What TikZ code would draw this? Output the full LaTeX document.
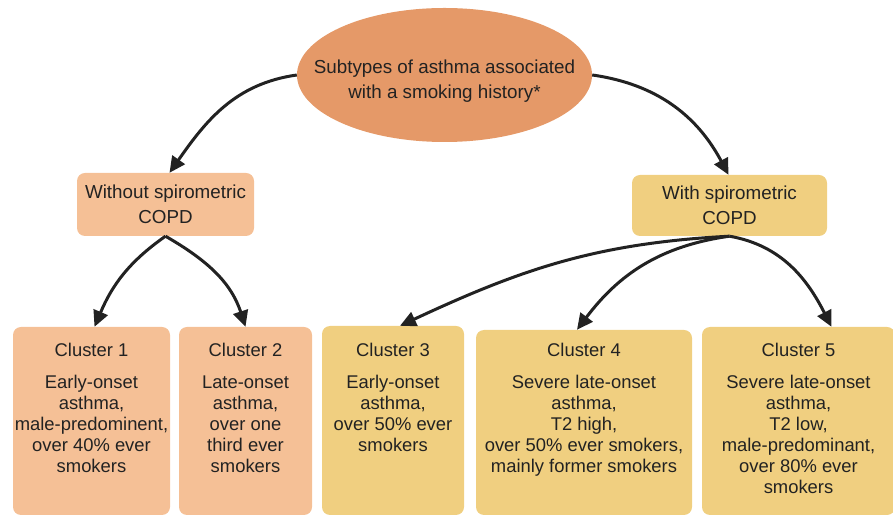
\documentclass[tikz,border=0pt]{standalone}
\usepackage{fontspec}
\setmainfont{Liberation Sans}
\usetikzlibrary{shapes.geometric,arrows.meta}
\definecolor{topfill}{HTML}{E59968}
\definecolor{peach}{HTML}{F5C096}
\definecolor{sand}{HTML}{F0CF80}
\definecolor{ink}{HTML}{222222}
\tikzset{
  x=1pt,y=1pt,
  topell/.style={ellipse,fill=topfill,draw=none,minimum width=295pt,minimum height=134pt,inner sep=0pt},
  midbox/.style={rounded corners=8pt,draw=none,inner sep=0pt,align=center,text=ink,
     font=\fontsize{18.8}{25}\selectfont},
  clbox/.style={rounded corners=8pt,draw=none,inner sep=0pt},
  cltext/.style={anchor=north,inner sep=0pt,align=center,text=ink,font=\fontsize{18.4}{21}\selectfont},
  arr/.style={draw=ink,line width=3pt,-{Triangle[length=16pt,width=15pt]}},
}
\begin{document}
\begin{tikzpicture}
\useasboundingbox (0,0) rectangle (893,516);
% top ellipse
\node[topell] (top) at (444.5,441) {};
\node[anchor=north,inner sep=0pt,align=center,text=ink,font=\fontsize{18.8}{25}\selectfont] (toptext) at (444.5,456)
  {Subtypes of asthma associated\\with a smoking history*};
% middle boxes
\node[midbox,fill=peach,minimum width=177pt,minimum height=63pt] (wo) at (165.5,311.5)
  {Without spirometric\\COPD};
\node[midbox,fill=sand,minimum width=195pt,minimum height=61pt] (wi) at (729.5,310.5)
  {With spirometric\\COPD};
% cluster boxes
\node[clbox,fill=peach,minimum width=157pt,minimum height=188pt] (c1) at (91.5,95) {};
\node[clbox,fill=peach,minimum width=133pt,minimum height=188pt] (c2) at (245.5,95) {};
\node[clbox,fill=sand,minimum width=142pt,minimum height=189pt] (c3) at (393,95.5) {};
\node[clbox,fill=sand,minimum width=216pt,minimum height=185pt] (c4) at (584,93.5) {};
\node[clbox,fill=sand,minimum width=193pt,minimum height=188pt] (c5) at (798.5,95) {};
% cluster texts
\node[cltext] (t1) at (91.5,173.5) {Cluster 1\\[11pt]Early-onset\\asthma,\\male-predominent,\\over 40\% ever\\smokers};
\node[cltext] (t2) at (245.5,173.5) {Cluster 2\\[11pt]Late-onset\\asthma,\\over one\\third ever\\smokers};
\node[cltext] (t3) at (393,173.5) {Cluster 3\\[11pt]Early-onset\\asthma,\\over 50\% ever\\smokers};
\node[cltext] (t4) at (584,173.5) {Cluster 4\\[11pt]Severe late-onset\\asthma,\\T2 high,\\over 50\% ever smokers,\\mainly former smokers};
\node[cltext] (t5) at (798.5,173.5) {Cluster 5\\[11pt]Severe late-onset\\asthma,\\T2 low,\\male-predominant,\\over 80\% ever\\smokers};
% connectors
\draw[arr] (top.west) to[out=188,in=55] ([xshift=4pt]wo.north);
\draw[arr] (top.east) to[out=-8,in=118] ([xshift=-1pt]wi.north);
\draw[arr] (wo.south) to[out=215,in=67] ([xshift=3pt]c1.north);
\draw[arr] (wo.south) to[out=-30,in=108] (c2.north);
\draw[arr] (wi.south) to[out=183,in=25] ([xshift=7pt]c3.north);
\draw[arr] (wi.south) to[out=188,in=53] ([xshift=-7pt]c4.north);
\draw[arr] (wi.south) to[out=-10,in=117] ([xshift=33pt]c5.north);
\end{tikzpicture}
\end{document}
